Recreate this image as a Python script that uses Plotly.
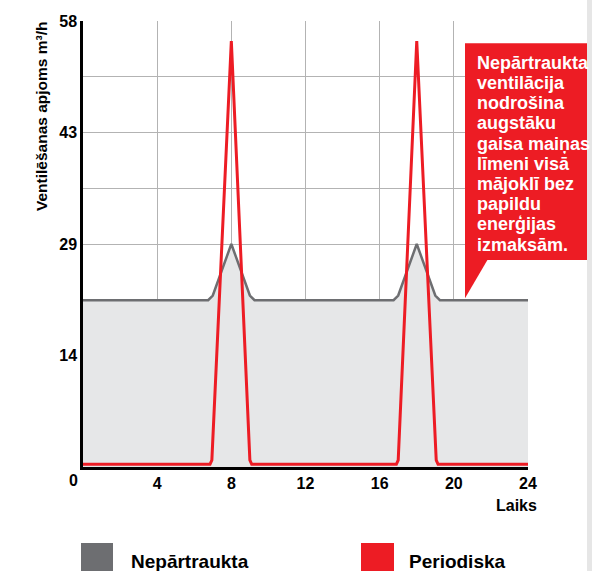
import plotly.graph_objects as go

# ---- data ----
hours_cont = [0, 6.75, 7.0, 8, 9.0, 9.25, 16.75, 17.0, 18, 19.0, 19.25, 24]
cont_values = [21.7, 21.7, 22.3, 29, 22.3, 21.7, 21.7, 22.3, 29, 22.3, 21.7, 21.7]

hours_per = [0, 6.85, 6.95, 8, 9.0, 9.1, 16.9, 17.0, 18, 19.05, 19.15, 24]
per_values = [0.35, 0.35, 0.9, 55.4, 0.9, 0.35, 0.35, 0.9, 55.4, 0.9, 0.35, 0.35]

x_ticks = [4, 8, 12, 16, 20, 24]
x_tick_labels = ["4", "8", "12", "16", "20", "24"]
y_grid = [0, 7.25, 14.5, 21.75, 29, 36.25, 43.5, 50.75, 58]
y_tick_labels = ["", "", "14", "", "29", "", "43", "", "58"]

series_names = ["Nepārtraukta", "Periodiska"]
callout_lines = ["Nepārtraukta", "ventilācija", "nodrošina", "augstāku",
                 "gaisa maiņas", "līmeni visā", "mājoklī bez", "papildu",
                 "enerģijas", "izmaksām."]

GRAY_LINE = "#6d6e71"
GRAY_FILL = "#e6e7e8"
RED = "#ed1c24"
FONT = "Liberation Sans, Arial, sans-serif"

fig = go.Figure()
fig.add_trace(go.Scatter(
    x=hours_cont, y=cont_values, mode="lines", name=series_names[0],
    line=dict(color=GRAY_LINE, width=2.5), fill="tozeroy", fillcolor=GRAY_FILL,
))
fig.add_trace(go.Scatter(
    x=hours_per, y=per_values, mode="lines", name=series_names[1],
    line=dict(color=RED, width=3),
))

# geometry helpers (plot area: left 83px, width 445px, bottom 467px, height 446px)
def px_x(px):
    return (px - 83) / 445.0

def px_y(py):
    return (467 - py) / 446.0

shapes = [
    # light strip at right edge
    dict(type="rect", xref="paper", yref="paper", x0=px_x(587), x1=px_x(600),
         y0=px_y(580), y1=px_y(-10), fillcolor="#e6e6e6", line=dict(width=0), layer="above"),
    # callout box
    dict(type="rect", xref="paper", yref="paper", x0=px_x(465), x1=px_x(587),
         y0=px_y(260), y1=px_y(43.3), fillcolor=RED, line=dict(width=0), layer="above"),
    dict(type="path", xref="paper", yref="paper",
         path=f"M {px_x(465)},{px_y(259)} L {px_x(488)},{px_y(259)} L {px_x(465)},{px_y(298.3)} Z",
         fillcolor=RED, line=dict(width=0), layer="above"),
    # legend swatches
    dict(type="rect", xref="paper", yref="paper", x0=px_x(81), x1=px_x(113),
         y0=px_y(543), y1=px_y(580), fillcolor=GRAY_LINE, line=dict(width=0)),
    dict(type="rect", xref="paper", yref="paper", x0=px_x(361), x1=px_x(394),
         y0=px_y(543), y1=px_y(580), fillcolor=RED, line=dict(width=0)),
]

annotations = []
for i, line in enumerate(callout_lines):
    annotations.append(dict(
        xref="paper", yref="paper", x=px_x(478), xshift=-3, y=px_y(62.8), yshift=-20.2 * i,
        xanchor="left", yanchor="middle", text=line, showarrow=False,
        font=dict(family=FONT, size=18, color="white", weight="bold"),
    ))

annotations += [
    dict(xref="paper", yref="paper", x=px_x(41), y=px_y(19), xanchor="center", yanchor="top",
         text="Ventilēšanas apjoms m³/h", textangle=-90, showarrow=False,
         font=dict(family=FONT, size=15.5, color="black", weight="bold")),
    dict(xref="paper", yref="paper", x=px_x(536), xshift=3, y=px_y(505), xanchor="right", yanchor="middle",
         text="Laiks", showarrow=False,
         font=dict(family=FONT, size=16, color="black", weight="bold")),
    dict(xref="paper", yref="paper", x=px_x(73.3), y=px_y(480), xanchor="center", yanchor="middle",
         text="0", showarrow=False,
         font=dict(family=FONT, size=16, color="black", weight="bold")),
    dict(xref="paper", yref="paper", x=px_x(131.7), xshift=-3, y=px_y(561), xanchor="left", yanchor="middle",
         text=series_names[0], showarrow=False,
         font=dict(family=FONT, size=19, color="black", weight="bold")),
    dict(xref="paper", yref="paper", x=px_x(410.2), xshift=-3, y=px_y(561), xanchor="left", yanchor="middle",
         text=series_names[1], showarrow=False,
         font=dict(family=FONT, size=19, color="black", weight="bold")),
]

fig.update_layout(
    width=592, height=571,
    margin=dict(l=83, r=64, t=21, b=104),
    paper_bgcolor="white", plot_bgcolor="white",
    showlegend=False,
    font=dict(family=FONT, color="black"),
    shapes=shapes, annotations=annotations,
    xaxis=dict(
        range=[0, 24], tickvals=x_ticks, ticktext=x_tick_labels,
        showgrid=True, gridcolor="#b3b3b3", gridwidth=1,
        showline=True, linecolor="black", linewidth=2.5,
        ticks="", tickfont=dict(family=FONT, size=16, color="black", weight="bold"),
        zeroline=False, fixedrange=True,
    ),
    yaxis=dict(
        range=[0, 58], tickvals=y_grid, ticktext=y_tick_labels,
        showgrid=True, gridcolor="#b3b3b3", gridwidth=1,
        showline=True, linecolor="black", linewidth=2.5,
        ticks="", tickfont=dict(family=FONT, size=16, color="black", weight="bold"),
        zeroline=False, fixedrange=True,
    ),
)

fig.write_html(
    "out.html",
    config={"displayModeBar": False},
    post_script="document.body.style.margin='0px';document.body.style.overflow='hidden';",
)
